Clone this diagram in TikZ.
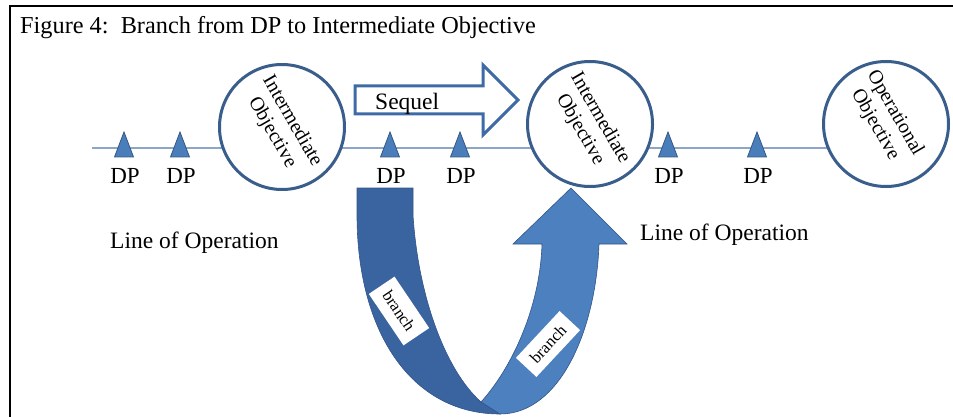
\documentclass[tikz,border=0pt]{standalone}
\usepackage{fontspec}
\setmainfont{Liberation Serif}
\definecolor{circb}{RGB}{58,94,140}
\definecolor{lineb}{RGB}{140,165,200}
\definecolor{trif}{RGB}{74,126,187}
\definecolor{trib}{RGB}{52,88,132}
\definecolor{seqb}{RGB}{62,106,165}
\definecolor{darku}{RGB}{58,100,160}
\definecolor{lightu}{RGB}{76,128,190}
\definecolor{ubord}{RGB}{50,85,135}
\tikzset{
  frame/.style={line width=2.4pt, black},
  opline/.style={line width=1.5pt, lineb},
  circ/.style={circle, draw=circb, line width=3pt, fill=white, minimum size=125pt, inner sep=0pt, align=center, font=\fontsize{20}{23}\selectfont},
  tri/.style={fill=trif, draw=trib, line width=0.8pt, line join=miter},
  dplbl/.style={font=\fontsize{23}{27}\selectfont, inner sep=0pt},
  biglbl/.style={font=\fontsize{23.5}{28}\selectfont, inner sep=0pt},
  seqarrow/.style={draw=seqb, line width=3pt, fill=white, line join=miter},
  udark/.style={fill=darku, draw=ubord, line width=0.6pt},
  ulight/.style={fill=lightu, draw=ubord, line width=0.6pt},
  brlbl/.style={fill=white, inner sep=0pt, font=\fontsize{16.5}{18}\selectfont}
}
\begin{document}
\begin{tikzpicture}[x=1pt,y=-1pt]
\useasboundingbox (0,0) rectangle (953,417);
% frame
\coordinate (fb) at (10,417);
\coordinate (fc) at (10,6);
\coordinate (fr) at (953,6);
\draw[frame] (fb) -- (fc) -- (fr);
% title
\node[anchor=base west, inner sep=0pt, font=\fontsize{24.3}{28}\selectfont] (title) at (20,34) {Figure 4:\ \ Branch from DP to Intermediate Objective};
% line of operation
\coordinate (ls) at (92,148);
\coordinate (le) at (860,148);
\draw[opline] (ls) -- (le);
% circles
\node[circ, rotate=-60] (c1) at (282,127) {Intermediate\\Objective};
\node[circ, rotate=-60] (c2) at (590,124) {Intermediate\\Objective};
\node[circ] (c3) at (886,124) {};
\node[rotate=-60, align=center, inner sep=0pt, font=\fontsize{20}{23}\selectfont] (t3) at (885,119) {Operational\\Objective};
% DP triangles
\foreach \x in {124,180,390,460,668,757}{
  \path[tri] (\x,132) -- (\x+9.5,157) -- (\x-9.5,157) -- cycle;
}
\node[dplbl, anchor=base] (dp1) at (125,183) {DP};
\node[dplbl, anchor=base] (dp2) at (181,183) {DP};
\node[dplbl, anchor=base] (dp3) at (391,183) {DP};
\node[dplbl, anchor=base] (dp4) at (461,183) {DP};
\node[dplbl, anchor=base] (dp5) at (669,183) {DP};
\node[dplbl, anchor=base] (dp6) at (758,183) {DP};
% line of operation labels
\node[biglbl, anchor=base west] (lop1) at (110,248) {Line of Operation};
\node[biglbl, anchor=base west] (lop2) at (640,240) {Line of Operation};
% sequel arrow
\path[seqarrow] (355,86) -- (483,86) -- (483,65) -- (518,100) -- (483,135) -- (483,114) -- (355,114) -- cycle;
\node[biglbl, anchor=base west] (seq) at (375,110) {Sequel};
% branch U arrow
\path[udark] (357,188) -- (413,188) -- (413,215)
  .. controls (418,295) and (445,370) .. (481,402)
  -- (500,414)
  .. controls (410,414) and (357,330) .. (357,215) -- cycle;
\path[ulight] (481,402)
  .. controls (510,370) and (540,310) .. (542,244)
  -- (513,244) -- (571,188) -- (627,244) -- (599,244)
  .. controls (596,330) and (560,414) .. (500,414)
  -- cycle;
\node[brlbl, rotate=-56, minimum width=62pt, minimum height=31pt] (b1) at (399,311) {branch};
\node[brlbl, rotate=47, minimum width=64pt, minimum height=28pt] (b2) at (548,344) {branch};
\end{tikzpicture}
\end{document}
